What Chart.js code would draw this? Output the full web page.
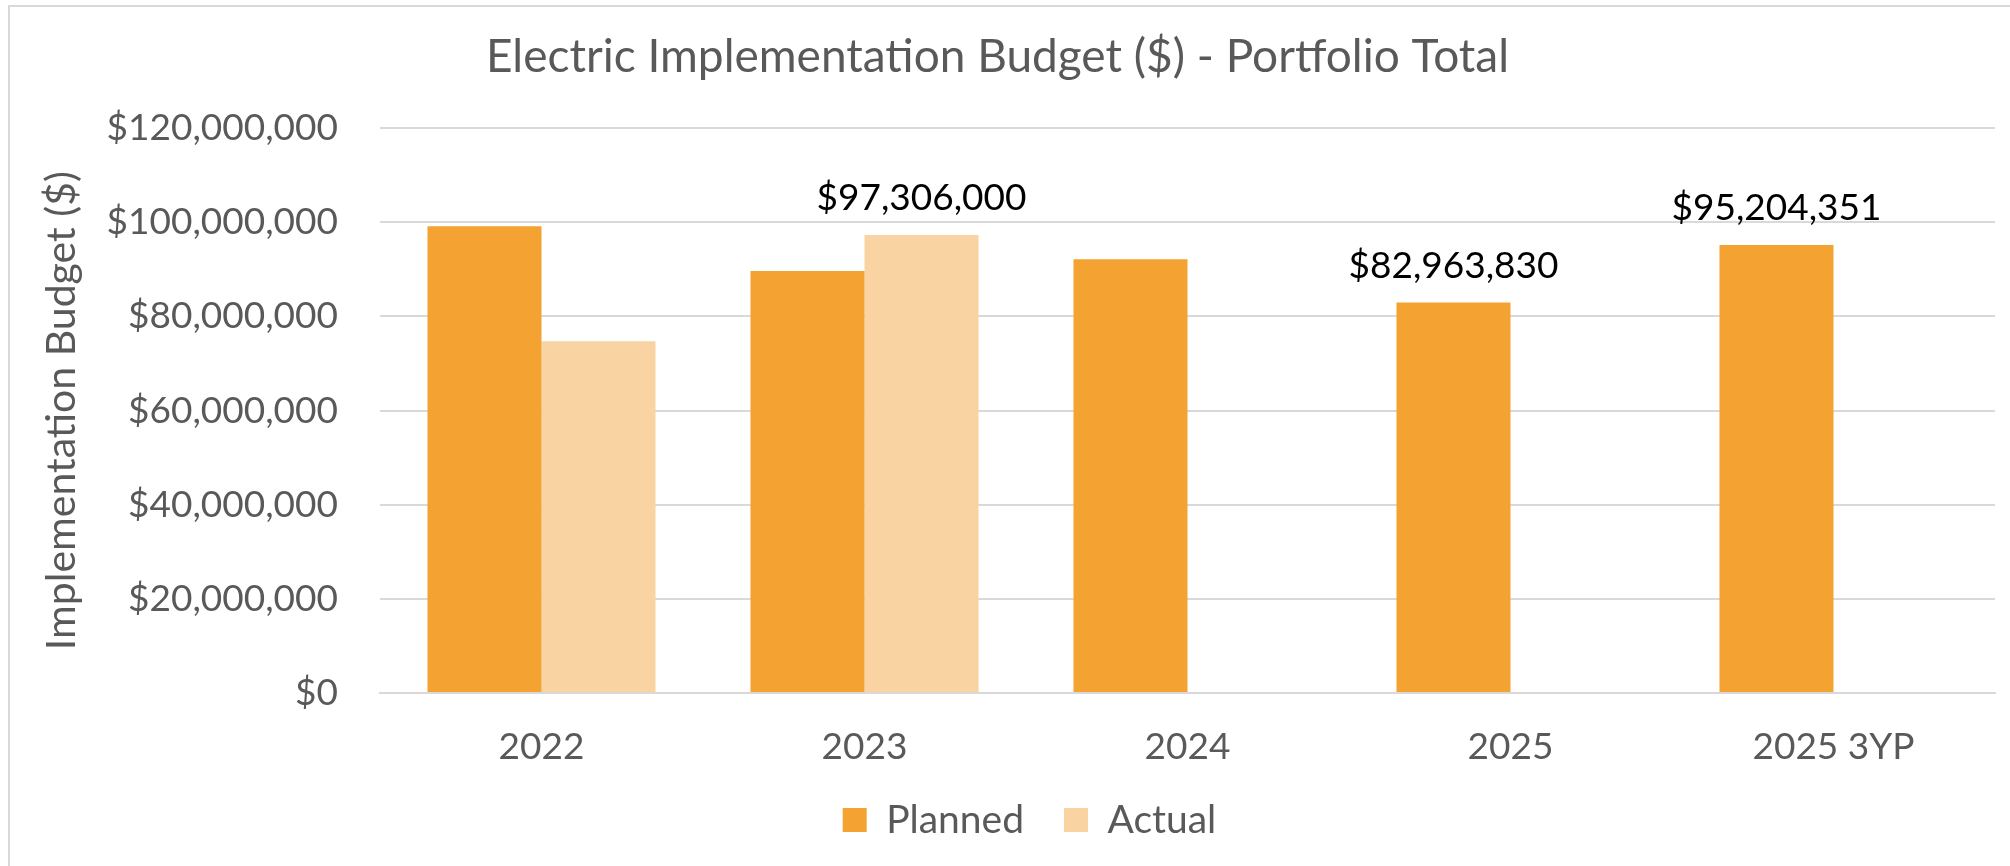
<!DOCTYPE html>
<html lang="en">
<head>
    <meta charset="UTF-8">
    <title>Electric Implementation Budget ($) - Portfolio Total</title>
    <script src="https://cdn.jsdelivr.net/npm/chart.js"></script>
    <style>
        html, body {
            margin: 0;
            padding: 0;
            background: #fff;
            overflow: hidden;
        }

        .wrap {
            position: relative;
            width: 2010px;
            height: 866px;
        }

        .frame {
            position: absolute;
            left: 8px;
            top: 5px;
            width: 2100px;
            height: 1000px;
            border-top: 2px solid #d9d9d9;
            border-left: 2px solid #d9d9d9;
            pointer-events: none;
        }

        canvas {
            position: absolute;
            left: 0;
            top: 0;
        }
    </style>
</head>
<body>

<div class="wrap">
    <canvas id="budgetChart" width="2010" height="866"></canvas>
    <div class="frame"></div>
</div>

<script>
    const categories = ["2022", "2023", "2024", "2025", "2025 3YP"];
    const planned = [99190000, 89670000, 92180000, 82963830, 95204351];
    const actual = [74740000, 97306000, null, null, null];
    // which bars carry a value label in the original
    const plannedShowLabel = [false, false, false, true, true];
    const actualShowLabel = [false, true, false, false, false];
    const yTicks = [0, 20000000, 40000000, 60000000, 80000000, 100000000, 120000000];

    const grey = "#595959";
    const money = v => "$" + Number(v).toLocaleString("en-US");

    Chart.defaults.font.family = "Lato, 'Open Sans', sans-serif";

    // draws the few data labels above the bars
    const barLabels = {
        id: "barLabels",
        afterDatasetsDraw(chart) {
            const ctx = chart.ctx;
            const flags = [plannedShowLabel, actualShowLabel];
            ctx.save();
            ctx.font = "37px Lato, 'Open Sans', sans-serif";
            ctx.fillStyle = "#000";
            ctx.textAlign = "center";
            ctx.textBaseline = "alphabetic";
            chart.data.datasets.forEach((ds, di) => {
                const meta = chart.getDatasetMeta(di);
                meta.data.forEach((bar, i) => {
                    if (!flags[di][i] || ds.data[i] == null) return;
                    ctx.fillText(money(ds.data[i]), bar.x, bar.y - 25);
                });
            });
            ctx.restore();
        }
    };

    // nudge the legend a bit right, like the original
    const legendShift = {
        id: "legendShift",
        afterLayout(chart) {
            if (!chart.legend) return;
            chart.legend.left += 32;
            chart.legend.right += 32;
        }
    };

    new Chart(document.getElementById("budgetChart").getContext("2d"), {
        type: "bar",
        data: {
            labels: categories,
            datasets: [
                {
                    label: "Planned",
                    data: planned,
                    backgroundColor: "#F4A232",
                    categoryPercentage: 0.706,
                    barPercentage: 1.0
                },
                {
                    label: "Actual",
                    data: actual,
                    backgroundColor: "#F9D3A1",
                    categoryPercentage: 0.706,
                    barPercentage: 1.0
                }
            ]
        },
        options: {
            responsive: false,
            animation: false,
            devicePixelRatio: 1,
            layout: {
                padding: { left: 0, right: 15, top: 0, bottom: 16.5 }
            },
            plugins: {
                title: {
                    display: true,
                    text: "Electric Implementation Budget ($) - Portfolio Total",
                    color: grey,
                    font: { size: 46, weight: "normal", lineHeight: 1.2 },
                    padding: { top: 30, bottom: 43 }
                },
                legend: {
                    position: "bottom",
                    labels: {
                        color: grey,
                        font: { size: 39 },
                        boxWidth: 24,
                        boxHeight: 24,
                        padding: 20,
                        generateLabels(chart) {
                            const items = Chart.defaults.plugins.legend.labels.generateLabels(chart);
                            // a wider gap after the first entry
                            if (items[0]) items[0].text += "  ";
                            return items;
                        }
                    }
                },
                tooltip: { enabled: false }
            },
            scales: {
                x: {
                    afterFit(scale) { scale.height = 87.5; },
                    grid: { display: false, drawTicks: false },
                    border: { color: "#d9d9d9", width: 2 },
                    ticks: {
                        color: grey,
                        font: { size: 37 },
                        padding: 32
                    }
                },
                y: {
                    min: 0,
                    max: 120000000,
                    afterFit(scale) { scale.width = 380; },
                    afterBuildTicks(scale) { scale.ticks = yTicks.map(v => ({ value: v })); },
                    grid: { color: "#d9d9d9", lineWidth: 2, drawTicks: false },
                    border: { display: false },
                    ticks: {
                        color: grey,
                        font: { size: 37 },
                        padding: 42,
                        callback: v => money(v)
                    },
                    title: {
                        display: true,
                        text: "Implementation Budget ($)",
                        color: grey,
                        font: { size: 41 },
                        padding: { top: 37, bottom: 0 }
                    }
                }
            }
        },
        plugins: [barLabels, legendShift]
    });
</script>

</body>
</html>
